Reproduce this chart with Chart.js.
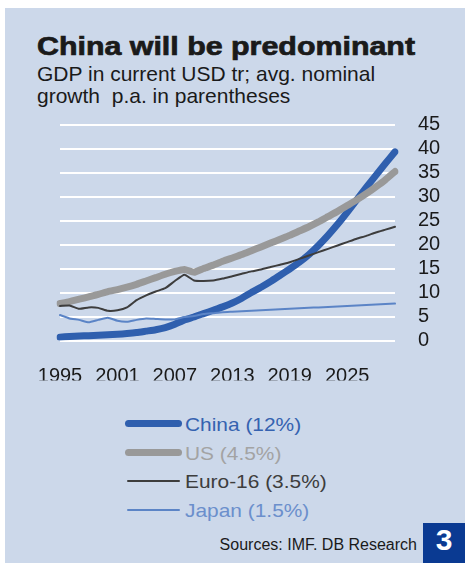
<!DOCTYPE html>
<html>
<head>
<meta charset="utf-8">
<script src="https://cdn.jsdelivr.net/npm/chart.js@4/dist/chart.umd.min.js"></script>
<style>
  html, body { margin: 0; padding: 0; background: #ffffff; width: 467px; height: 567px; overflow: hidden; }
  body { position: relative; font-family: "Liberation Sans", Arial, sans-serif; }
  #panel { position: absolute; left: 5px; top: 8px; width: 460px; height: 555px; background: #ccd8ea; }
  #title { position: absolute; left: 37px; top: 34px; font-size: 25px; line-height: 1; font-weight: bold;
           color: #1a1a1a; white-space: nowrap; transform-origin: 0 0; -webkit-text-stroke: 0.7px #1a1a1a; }
  #subtitle { position: absolute; left: 37px; top: 63px; font-size: 21px; line-height: 22.3px; color: #1a1a1a; white-space: nowrap; }
  #chartBox { position: absolute; left: 0; top: 0; width: 467px; height: 400px; }
  .legRow { position: absolute; left: 0; height: 0; }
  .legLine { position: absolute; }
  .legText { position: absolute; left: 185px; font-size: 19px; line-height: 1; white-space: nowrap; transform: scaleX(1.1); transform-origin: 0 0; }
  #source { position: absolute; right: 50px; top: 537px; font-size: 16px; line-height: 1; color: #1a1a1a; white-space: nowrap; }
  #badge { position: absolute; left: 423px; top: 523px; width: 42px; height: 40px; background: #0a3a92; }
  #badgeNum { position: absolute; left: 423px; top: 525px; width: 42px; text-align: center; font-size: 30px; line-height: 1;
              font-weight: bold; color: #ffffff; }
</style>
</head>
<body>
<div id="panel"></div>
<div id="title">China will be predominant</div>
<div id="subtitle">GDP in current USD tr; avg. nominal<br>growth&nbsp; p.a. in parentheses</div>
<div id="chartBox"><canvas id="chart"></canvas></div>
<div id="legend"></div>
<div id="source">Sources: IMF. DB Research</div>
<div id="badge"></div>
<div id="badgeNum">3</div>

<script>
// Years on the horizontal axis (actual values, then projections to 2030)
const years = ['1995','1996','1997','1998','1999','2000','2001','2002','2003','2004',
               '2005','2006','2007','2008','2009','2010','2011','2012','2013','2014',
               '2015','2016','2017','2018','2019','2020','2021','2022','2023','2024',
               '2025','2026','2027','2028','2029','2030'];
const xTickLabels = ['1995','2001','2007','2013','2019','2025'];

// GDP in current USD tr
const china = [0.7, 0.85, 0.95, 1.0, 1.1, 1.2, 1.3, 1.45, 1.65, 1.95,
               2.25, 2.7, 3.4, 4.3, 4.9, 5.6, 6.3, 7.0, 7.8, 8.8,
               10.0, 11.1, 12.3, 13.6, 14.9, 16.3, 17.9, 19.8, 21.9, 24.2,
               26.7, 29.3, 31.9, 34.4, 36.9, 39.3];
const us = [7.7, 8.1, 8.6, 9.1, 9.6, 10.2, 10.6, 11.1, 11.7, 12.4,
            13.1, 13.8, 14.4, 14.8, 14.2, 15.0, 15.7, 16.5, 17.2, 17.9,
            18.7, 19.5, 20.3, 21.1, 21.9, 22.8, 23.7, 24.7, 25.8, 26.9,
            28.1, 29.3, 30.6, 32.0, 33.5, 35.2];
const euro16 = [7.2, 7.3, 6.6, 6.9, 6.8, 6.2, 6.3, 6.9, 8.4, 9.4,
                10.2, 10.9, 12.4, 13.7, 12.5, 12.4, 12.5, 12.9, 13.4, 13.9,
                14.4, 14.8, 15.3, 15.8, 16.3, 17.0, 17.7, 18.4, 19.1, 19.8,
                20.5, 21.2, 21.8, 22.5, 23.1, 23.7];
const japan = [5.3, 4.6, 4.3, 3.8, 4.3, 4.75, 4.1, 3.9, 4.3, 4.6,
               4.5, 4.4, 4.4, 4.9, 5.1, 5.5, 5.7, 5.9, 6.0, 6.1,
               6.2, 6.3, 6.4, 6.5, 6.6, 6.7, 6.8, 6.9, 7.0, 7.1,
               7.2, 7.3, 7.4, 7.5, 7.6, 7.7];

const seriesNames = ['China (12%)', 'US (4.5%)', 'Euro-16 (3.5%)', 'Japan (1.5%)'];
const lineColors  = ['#2f5fae', '#999999', '#3d3d3d', '#5b84c6'];
const textColors  = ['#3562b0', '#a3a3a3', '#3d3d3d', '#6b8fcc'];
const lineWidths  = [7, 7, 2, 2];

// Stretch the heavy headline to its set width
(function () {
  const t = document.getElementById('title');
  const w = t.getBoundingClientRect().width;
  t.style.transform = 'scaleX(' + (378 / w) + ')';
})();

const seriesData = [china, us, euro16, japan];
const datasets = seriesData.map((d, i) => ({
  label: seriesNames[i],
  data: d,
  borderColor: lineColors[i],
  backgroundColor: lineColors[i],
  borderWidth: lineWidths[i],
  borderCapStyle: 'round',
  borderJoinStyle: 'round',
  pointRadius: 0,
  tension: 0.15,
  fill: false,
  order: seriesData.length - 1 - i
}));

new Chart(document.getElementById('chart'), {
  type: 'line',
  data: { labels: years, datasets: datasets },
  options: {
    responsive: true,
    maintainAspectRatio: false,
    animation: false,
    layout: { padding: { left: 60, top: 124.5, right: 22, bottom: 19.5 } },
    plugins: { legend: { display: false }, tooltip: { enabled: false }, title: { display: false } },
    scales: {
      x: {
        type: 'category',
        offset: false,
        grid: { display: false, drawTicks: false },
        border: { display: false },
        ticks: {
          autoSkip: false,
          maxRotation: 0,
          padding: 24,
          color: '#1a1a1a',
          font: { family: '"Liberation Sans", Arial, sans-serif', size: 20 },
          callback: function (value) {
            const lab = this.getLabelForValue(value);
            return xTickLabels.includes(lab) ? lab : '';
          }
        },
        afterFit: (axis) => { axis.height = 40; }
      },
      y: {
        position: 'right',
        min: 0,
        max: 45,
        grid: { color: '#ffffff', lineWidth: 2, drawTicks: false },
        border: { display: false },
        ticks: {
          stepSize: 5,
          autoSkip: false,
          padding: 23,
          color: '#1a1a1a',
          font: { family: '"Liberation Sans", Arial, sans-serif', size: 20 }
        },
        afterFit: (axis) => { axis.width = 50; }
      }
    }
  }
});

// Legend below the plot, one row per series
const legend = document.getElementById('legend');
const rowY = [423.5, 452.5, 481, 509.5];
seriesNames.forEach((name, i) => {
  const row = document.createElement('div');
  row.className = 'legRow';
  row.style.top = rowY[i] + 'px';
  const ln = document.createElement('div');
  ln.className = 'legLine';
  const thick = lineWidths[i];
  const x0 = thick > 3 ? 125 : 127;
  const x1 = thick > 3 ? 182 : 180;
  ln.style.left = x0 + 'px';
  ln.style.width = (x1 - x0) + 'px';
  ln.style.height = thick + 'px';
  ln.style.top = (-thick / 2) + 'px';
  ln.style.borderRadius = (thick / 2) + 'px';
  ln.style.background = lineColors[i];
  const tx = document.createElement('div');
  tx.className = 'legText';
  tx.textContent = name;
  tx.style.color = textColors[i];
  tx.style.top = '-8.8px';
  row.appendChild(ln);
  row.appendChild(tx);
  legend.appendChild(row);
});
</script>
</body>
</html>
